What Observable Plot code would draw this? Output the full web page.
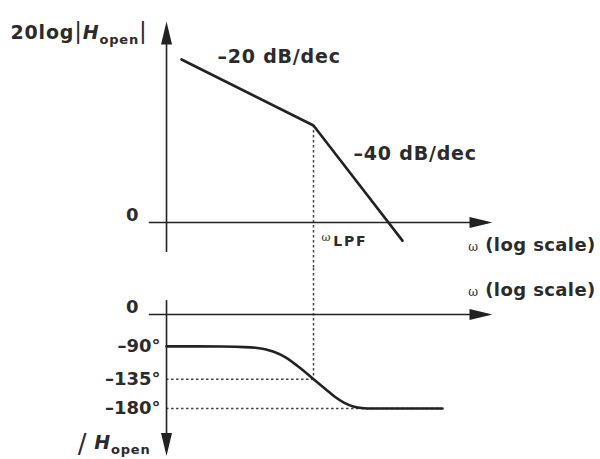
<!DOCTYPE html>
<html><head><meta charset="utf-8">
<script src="https://cdn.jsdelivr.net/npm/d3@7"></script>
<script src="https://cdn.jsdelivr.net/npm/@observablehq/plot@0.6"></script>
<style>
body{margin:0;background:#fff;}
#chart{width:600px;height:459px;overflow:hidden;}
#chart svg{display:block;}
</style></head><body><div id="chart"></div>
<script>
// ---------------- data ----------------
const omegaLPF = 1;                                  // break frequency (normalised ω)
const magOmega = [0.1, 1, 4.72];                     // magnitude asymptote vertices (ω)
const magDb    = [49.4, 29.4, -5.5];                 // 20log|H_open| in dB
const phaseOmega = [0.077, 0.2, 0.3, 0.363, 0.43, 0.5, 0.614, 0.797, 1, 1.23, 1.45, 1.7, 2.0, 2.4, 3.0, 9.49];
const phaseDeg   = [-90, -90.3, -91, -92, -94, -97.5, -105, -120, -135, -150, -162, -171, -177, -179.5, -180, -180];
const phaseTicks = [0, -90, -135, -180];
const phaseTickLabels = ["0", "–90°", "–135°", "–180°"];
const magTicks = [0];
const magTickLabels = ["0"];
const slopeLabels = ["–20 dB/dec", "–40 dB/dec"];
const slopeLabelOmega = [0.187, 2.01];
const slopeLabelDb = [50.3, 20.9];
const omegaAxis = [0.057, 22.7];                     // extent of the ω axes
const yAxisOmega = 0.077;                            // where the vertical axes stand
const magAxisDb = [-9.1, 60.9];                      // extent of the magnitude axis
const phaseAxisDeg = [39, -253];                     // extent of the phase axis
const magPanelBottomDb = -14;                        // bottom edge of the magnitude panel
const phasePanelTopDeg = 130;                        // top edge of the phase panel
const xLabelOmega = 14.9;
const xLabel = "ω (log scale)";
const magLabel = "20log|Hopen|";
const phaseLabel = "/Hopen";
const lpfLabel = "ωLPF";

// ---------------- styling ----------------
const INK = "#222";
const TXT = "#2b2b2b";
const DOT = "#444";
const FONT = "DejaVu Sans";
const xScale = {type: "log", domain: [0.1, 10], range: [181, 445]};
// the schematic squeezes the 0…–90° gap: warp the phase axis accordingly
const phaseWarp = d3.scaleLinear().domain(phaseTicks).range([0, -61, -124, -180]);

// filled, slender arrow heads (tip at the point)
const head = (dx, dy) => ({draw(ctx) {
  const L = 23, W = 5.5;
  const px = -dy, py = dx;
  ctx.moveTo(0, 0);
  ctx.lineTo(-dx * L + px * W, -dy * L + py * W);
  ctx.lineTo(-dx * L - px * W, -dy * L - py * W);
  ctx.closePath();
}});
const headRight = head(1, 0), headUp = head(0, -1), headDown = head(0, 1);

const textStyle = {fontFamily: FONT, fontWeight: "bold", fontSize: 18, fill: TXT};
const dotted = {stroke: DOT, strokeWidth: 1.5, strokeDasharray: "2.5,2.5"};

// ---------------- magnitude panel ----------------
const mag = magOmega.map((w, i) => ({w, db: magDb[i]}));
const magPlot = Plot.plot({
  width: 600, height: 268, margin: 0,
  style: {background: "transparent", overflow: "hidden"},
  x: {...xScale, axis: null},
  y: {domain: [-10, 60], range: [255, 24], axis: null},
  marks: [
    Plot.ruleX([omegaLPF], {y1: magDb[1], y2: magPanelBottomDb, ...dotted}),
    Plot.ruleY([0], {x1: omegaAxis[0], x2: omegaAxis[1] * 0.93, stroke: INK, strokeWidth: 1.6}),
    Plot.dot([0], {x: () => omegaAxis[1], y: 0, symbol: headRight, fill: INK, stroke: "none"}),
    Plot.ruleX([yAxisOmega], {y1: magAxisDb[0], y2: magAxisDb[1] - 3, stroke: INK, strokeWidth: 1.6}),
    Plot.dot([0], {x: () => yAxisOmega, y: () => magAxisDb[1], symbol: headUp, fill: INK, stroke: "none"}),
    Plot.line(mag, {x: "w", y: "db", stroke: INK, strokeWidth: 2.6}),
    Plot.text(slopeLabels, {x: (d, i) => slopeLabelOmega[i], y: (d, i) => slopeLabelDb[i], text: d => d, textAnchor: "start", ...textStyle, fontSize: 19}),
    Plot.text(magTickLabels, {x: () => yAxisOmega, y: (d, i) => magTicks[i], text: d => d, textAnchor: "end", dx: -28, dy: -7, ...textStyle}),
    Plot.text([xLabel], {x: () => xLabelOmega, y: () => 0, text: d => d, textAnchor: "start", dy: 23, ...textStyle}),
    Plot.text([lpfLabel], {x: () => omegaLPF, y: () => 0, text: d => d, textAnchor: "start", dx: 8, dy: 16, ...textStyle}),
    Plot.text([magLabel], {x: () => yAxisOmega, y: () => magAxisDb[1], text: d => d, textAnchor: "end", dx: -19, dy: 11, ...textStyle, fontSize: 19})
  ]
});

// ---------------- phase panel ----------------
const phase = phaseOmega.map((w, i) => ({w, deg: phaseDeg[i]}));
const phasePlot = Plot.plot({
  width: 600, height: 191, margin: 0,
  style: {background: "transparent", overflow: "hidden"},
  x: {...xScale, axis: null},
  y: {transform: phaseWarp, domain: [0, -180], range: [46, 140], axis: null},
  marks: [
    Plot.ruleX([omegaLPF], {y1: phasePanelTopDeg, y2: phaseTicks[2], ...dotted}),
    Plot.ruleY([phaseTicks[2]], {x1: yAxisOmega, x2: omegaLPF, ...dotted}),
    Plot.ruleY([phaseTicks[3]], {x1: yAxisOmega, x2: phaseOmega[phaseOmega.length - 1], ...dotted}),
    Plot.ruleY([0], {x1: omegaAxis[0], x2: omegaAxis[1] * 0.93, stroke: INK, strokeWidth: 1.6}),
    Plot.dot([0], {x: () => omegaAxis[1], y: 0, symbol: headRight, fill: INK, stroke: "none"}),
    Plot.ruleX([yAxisOmega], {y1: phaseAxisDeg[0], y2: phaseAxisDeg[1] + 10, stroke: INK, strokeWidth: 1.6}),
    Plot.dot([0], {x: () => yAxisOmega, y: () => phaseAxisDeg[1], symbol: headDown, fill: INK, stroke: "none"}),
    Plot.line(phase, {x: "w", y: "deg", stroke: INK, strokeWidth: 2.6, curve: "catmull-rom"}),
    Plot.text(phaseTickLabels, {x: () => yAxisOmega, y: (d, i) => phaseTicks[i], text: d => d, textAnchor: "end", ...textStyle}),
    Plot.text([xLabel], {x: () => xLabelOmega, y: () => 0, text: d => d, textAnchor: "start", dy: -24, ...textStyle}),
    Plot.text([phaseLabel], {x: () => yAxisOmega, y: () => phaseAxisDeg[1], text: d => d, textAnchor: "end", dx: -16, dy: -13, ...textStyle, fontSize: 19})
  ]
});

// offset tick labels ("0" sits further out and a little higher)
d3.select(phasePlot).selectAll("text").each(function () {
  const t = this.textContent;
  const sel = d3.select(this);
  const tr = sel.attr("transform") || "";
  if (t === "0") sel.attr("transform", tr + " translate(-28,-7)");
  else if (phaseTickLabels.includes(t)) sel.attr("transform", tr + " translate(-6,0)");
});

// rich text (subscripts, italic H, small ω)
function rich(svg, text, parts, spacing) {
  d3.select(svg).selectAll("text").filter(function () { return this.textContent === text; }).each(function () {
    const t = d3.select(this); t.text(null);
    if (spacing) t.attr("letter-spacing", spacing);
    for (const p of parts) {
      const s = t.append("tspan").text(p.text);
      for (const k in (p.attr || {})) s.attr(k, p.attr[k]);
    }
  });
}
function spaced(svg, texts, spacing) {
  d3.select(svg).selectAll("text").filter(function () { return texts.includes(this.textContent); }).attr("letter-spacing", spacing);
}
spaced(magPlot, slopeLabels, 0.8);
const omegaSmall = {text: "ω", attr: {"font-size": 12, "font-weight": "normal", "font-family": "DejaVu Serif"}};
rich(magPlot, xLabel, [omegaSmall, {text: " (log scale)"}], 0.4);
rich(phasePlot, xLabel, [omegaSmall, {text: " (log scale)"}], 0.4);
rich(magPlot, lpfLabel, [{text: "ω", attr: {"font-size": 11, "font-weight": "normal", "font-family": "DejaVu Serif", dy: -3}},
                         {text: "LPF", attr: {"font-size": 14, dy: 5, dx: 1}}], 1.8);
rich(magPlot, magLabel, [
  {text: "20log"},
  {text: "|", attr: {"font-weight": "normal", "font-size": 23}},
  {text: "H", attr: {"font-style": "italic"}},
  {text: "open", attr: {"font-size": 13, dy: 5}},
  {text: "|", attr: {"font-weight": "normal", "font-size": 23, dy: -5}}
], 0.8);
rich(phasePlot, phaseLabel, [
  {text: "/", attr: {"font-weight": "normal", "font-size": 26, dy: 4}},
  {text: "H", attr: {"font-style": "italic", dy: -4, dx: 7}},
  {text: "open", attr: {"font-size": 13, dy: 5}}
], 0.8);

document.getElementById("chart").append(magPlot, phasePlot);
</script></body></html>
